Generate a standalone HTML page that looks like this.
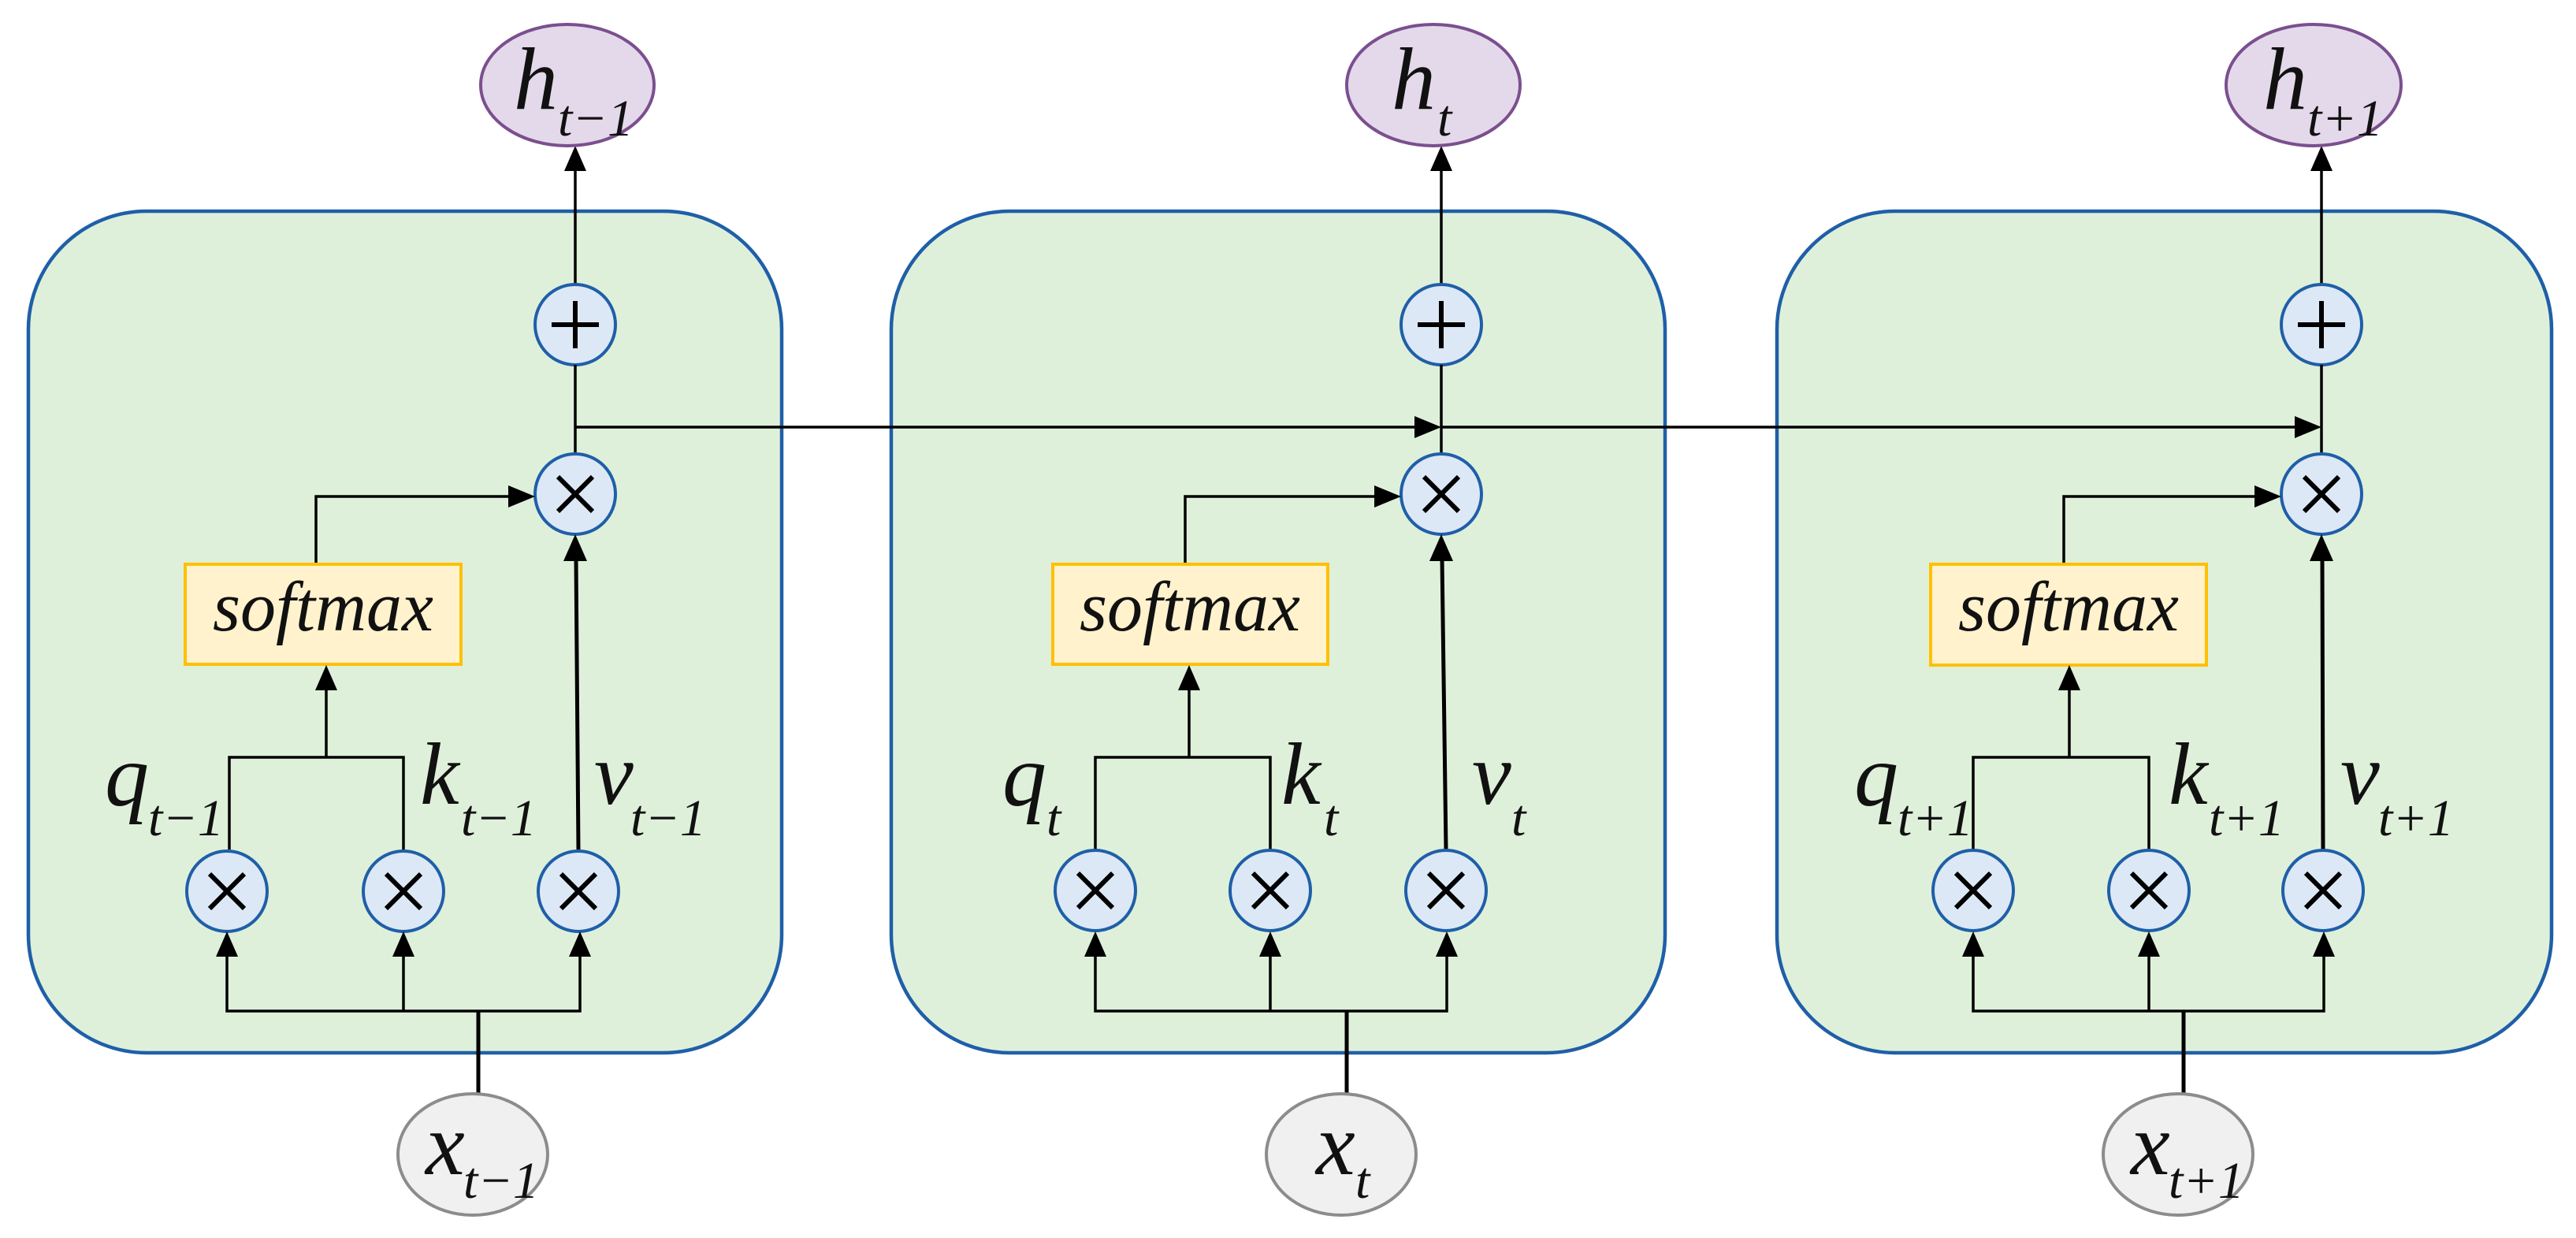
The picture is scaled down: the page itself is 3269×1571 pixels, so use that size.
<!DOCTYPE html>
<html><head><meta charset="utf-8"><style>
html,body{margin:0;padding:0;background:#fff;}
svg{display:block;}
text{font-family:"Liberation Serif",serif;font-style:italic;fill:#111;}
.c{fill:#dde8f6;stroke:#1f5fa8;stroke-width:4;}
.l{stroke:#000;stroke-width:3.5;fill:none;}
.t{stroke:#000;stroke-width:5;fill:none;}
.op{stroke:#000;stroke-width:6;fill:none;}
.ah{fill:#000;}
.box{fill:#dff0da;stroke:#1f5fa8;stroke-width:4.5;}
.sm{fill:#fff2cc;stroke:#ffc000;stroke-width:4;}
.h{fill:#e4d9ea;stroke:#7b4f8f;stroke-width:4;}
.x{fill:#f0f0f0;stroke:#8c8c8c;stroke-width:4;}
.big{font-size:112px;}
.sub{font-size:66px;}
</style></head><body>
<svg width="3269" height="1571" viewBox="0 0 3269 1571" xmlns="http://www.w3.org/2000/svg">

<rect class="box" x="36" y="268" width="956" height="1068" rx="150" ry="150"/>
<rect class="box" x="1131" y="268" width="982" height="1068" rx="150" ry="150"/>
<rect class="box" x="2255" y="268" width="983" height="1068" rx="150" ry="150"/>

<line class="l" x1="730" y1="542" x2="1800" y2="542"/>
<path class="ah" d="M1829,542 L1795,528 L1795,556 z"/>
<line class="l" x1="1829" y1="542" x2="2916" y2="542"/>
<path class="ah" d="M2946,542 L2912,528 L2912,556 z"/>

<g>
<line class="l" x1="730" y1="361" x2="730" y2="215"/>
<path class="ah" d="M730,185 L716,217 L744,217 z"/>
<ellipse class="h" cx="720" cy="108" rx="110" ry="77"/>
<text x="652" y="138" class="big">h</text><text x="708" y="172" class="sub">t−1</text>
<circle class="c" cx="730" cy="412" r="51"/>
<line class="op" x1="700" y1="412" x2="760" y2="412"/><line class="op" x1="730" y1="382" x2="730" y2="442"/>
<line class="l" x1="730" y1="463" x2="730" y2="576"/>
<circle class="c" cx="730" cy="627" r="51"/>
<line class="op" x1="708" y1="605" x2="752" y2="649"/><line class="op" x1="752" y1="605" x2="708" y2="649"/>
<polyline class="l" points="401,716 401,630 650,630"/>
<path class="ah" d="M679,630 L645,616 L645,644 z"/>
<rect class="sm" x="235" y="716" width="350" height="127"/>
<text x="410" y="800" font-size="90" text-anchor="middle">softmax</text>
<line class="t" x1="734" y1="1078" x2="731" y2="710"/>
<path class="ah" d="M730,678 L715,712 L745,712 z"/>
<polyline class="l" points="291,1078 291,961 512,961 512,1078"/>
<line class="l" x1="414" y1="961" x2="414" y2="872"/>
<path class="ah" d="M414,844 L400,876 L428,876 z"/>
<circle class="c" cx="288" cy="1131" r="51"/><line class="op" x1="266" y1="1109" x2="310" y2="1153"/><line class="op" x1="310" y1="1109" x2="266" y2="1153"/>
<circle class="c" cx="512" cy="1131" r="51"/><line class="op" x1="490" y1="1109" x2="534" y2="1153"/><line class="op" x1="534" y1="1109" x2="490" y2="1153"/>
<circle class="c" cx="734" cy="1131" r="51"/><line class="op" x1="712" y1="1109" x2="756" y2="1153"/><line class="op" x1="756" y1="1109" x2="712" y2="1153"/>
<polyline class="l" points="288,1210 288,1283 736,1283 736,1210"/>
<line class="l" x1="512" y1="1210" x2="512" y2="1283"/>
<path class="ah" d="M288,1182 L274,1214 L302,1214 z"/>
<path class="ah" d="M512,1182 L498,1214 L526,1214 z"/>
<path class="ah" d="M736,1182 L722,1214 L750,1214 z"/>
<line class="t" x1="607" y1="1283" x2="607" y2="1390"/>
<ellipse class="x" cx="600" cy="1465" rx="95" ry="77"/>
<text x="540" y="1490" class="big">x</text><text x="588" y="1520" class="sub">t−1</text>
<text x="133" y="1022" class="big">q</text><text x="188" y="1060" class="sub">t−1</text>
<text x="533" y="1020" class="big">k</text><text x="585" y="1060" class="sub">t−1</text>
<text x="754" y="1020" class="big">v</text><text x="800" y="1060" class="sub">t−1</text>
</g>

<g transform="translate(1099,0)">
<line class="l" x1="730" y1="361" x2="730" y2="215"/>
<path class="ah" d="M730,185 L716,217 L744,217 z"/>
<ellipse class="h" cx="720" cy="108" rx="110" ry="77"/>
<circle class="c" cx="730" cy="412" r="51"/>
<line class="op" x1="700" y1="412" x2="760" y2="412"/><line class="op" x1="730" y1="382" x2="730" y2="442"/>
<line class="l" x1="730" y1="463" x2="730" y2="576"/>
<circle class="c" cx="730" cy="627" r="51"/>
<line class="op" x1="708" y1="605" x2="752" y2="649"/><line class="op" x1="752" y1="605" x2="708" y2="649"/>
<polyline class="l" points="405,716 405,630 650,630"/>
<path class="ah" d="M679,630 L645,616 L645,644 z"/>
<rect class="sm" x="237" y="716" width="349" height="127"/>
<text x="411" y="800" font-size="90" text-anchor="middle">softmax</text>
<line class="t" x1="736" y1="1078" x2="731" y2="710"/>
<path class="ah" d="M730,678 L715,712 L745,712 z"/>
<polyline class="l" points="291,1078 291,961 513,961 513,1078"/>
<line class="l" x1="410" y1="961" x2="410" y2="872"/>
<path class="ah" d="M410,844 L396,876 L424,876 z"/>
<circle class="c" cx="291" cy="1130" r="51"/><line class="op" x1="269" y1="1108" x2="313" y2="1152"/><line class="op" x1="313" y1="1108" x2="269" y2="1152"/>
<circle class="c" cx="513" cy="1130" r="51"/><line class="op" x1="491" y1="1108" x2="535" y2="1152"/><line class="op" x1="535" y1="1108" x2="491" y2="1152"/>
<circle class="c" cx="736" cy="1130" r="51"/><line class="op" x1="714" y1="1108" x2="758" y2="1152"/><line class="op" x1="758" y1="1108" x2="714" y2="1152"/>
<polyline class="l" points="291,1210 291,1283 737,1283 737,1210"/>
<line class="l" x1="513" y1="1210" x2="513" y2="1283"/>
<path class="ah" d="M291,1182 L277,1214 L305,1214 z"/>
<path class="ah" d="M513,1182 L499,1214 L527,1214 z"/>
<path class="ah" d="M737,1182 L723,1214 L751,1214 z"/>
<line class="t" x1="610" y1="1283" x2="610" y2="1390"/>
<ellipse class="x" cx="603" cy="1465" rx="95" ry="77"/>
</g>
<text x="1766" y="138" class="big">h</text><text x="1824" y="172" class="sub">t</text>
<text x="1670" y="1490" class="big">x</text><text x="1720" y="1520" class="sub">t</text>
<text x="1272" y="1022" class="big">q</text><text x="1328" y="1060" class="sub">t</text>
<text x="1626" y="1020" class="big">k</text><text x="1680" y="1060" class="sub">t</text>
<text x="1868" y="1020" class="big">v</text><text x="1918" y="1060" class="sub">t</text>

<g transform="translate(2216,0)">
<line class="l" x1="730" y1="361" x2="730" y2="215"/>
<path class="ah" d="M730,185 L716,217 L744,217 z"/>
<ellipse class="h" cx="720" cy="108" rx="111" ry="77"/>
<circle class="c" cx="730" cy="412" r="51"/>
<line class="op" x1="700" y1="412" x2="760" y2="412"/><line class="op" x1="730" y1="382" x2="730" y2="442"/>
<line class="l" x1="730" y1="463" x2="730" y2="576"/>
<circle class="c" cx="730" cy="627" r="51"/>
<line class="op" x1="708" y1="605" x2="752" y2="649"/><line class="op" x1="752" y1="605" x2="708" y2="649"/>
<polyline class="l" points="403,716 403,630 650,630"/>
<path class="ah" d="M679,630 L645,616 L645,644 z"/>
<rect class="sm" x="234" y="716" width="350" height="128"/>
<text x="409" y="800" font-size="90" text-anchor="middle">softmax</text>
<line class="t" x1="732" y1="1078" x2="731" y2="710"/>
<path class="ah" d="M730,678 L715,712 L745,712 z"/>
<polyline class="l" points="288,1078 288,961 511,961 511,1078"/>
<line class="l" x1="410" y1="961" x2="410" y2="872"/>
<path class="ah" d="M410,844 L396,876 L424,876 z"/>
<circle class="c" cx="288" cy="1130" r="51"/><line class="op" x1="266" y1="1108" x2="310" y2="1152"/><line class="op" x1="310" y1="1108" x2="266" y2="1152"/>
<circle class="c" cx="511" cy="1130" r="51"/><line class="op" x1="489" y1="1108" x2="533" y2="1152"/><line class="op" x1="533" y1="1108" x2="489" y2="1152"/>
<circle class="c" cx="732" cy="1130" r="51"/><line class="op" x1="710" y1="1108" x2="754" y2="1152"/><line class="op" x1="754" y1="1108" x2="710" y2="1152"/>
<polyline class="l" points="288,1210 288,1283 733,1283 733,1210"/>
<line class="l" x1="511" y1="1210" x2="511" y2="1283"/>
<path class="ah" d="M288,1182 L274,1214 L302,1214 z"/>
<path class="ah" d="M511,1182 L497,1214 L525,1214 z"/>
<path class="ah" d="M733,1182 L719,1214 L747,1214 z"/>
<line class="t" x1="555" y1="1283" x2="555" y2="1390"/>
<ellipse class="x" cx="548" cy="1465" rx="95" ry="77"/>
</g>
<text x="2872" y="138" class="big">h</text><text x="2928" y="172" class="sub">t+1</text>
<text x="2704" y="1490" class="big">x</text><text x="2752" y="1520" class="sub">t+1</text>
<text x="2353" y="1022" class="big">q</text><text x="2408" y="1060" class="sub">t+1</text>
<text x="2752" y="1020" class="big">k</text><text x="2803" y="1060" class="sub">t+1</text>
<text x="2970" y="1020" class="big">v</text><text x="3018" y="1060" class="sub">t+1</text>

</svg>
</body></html>
